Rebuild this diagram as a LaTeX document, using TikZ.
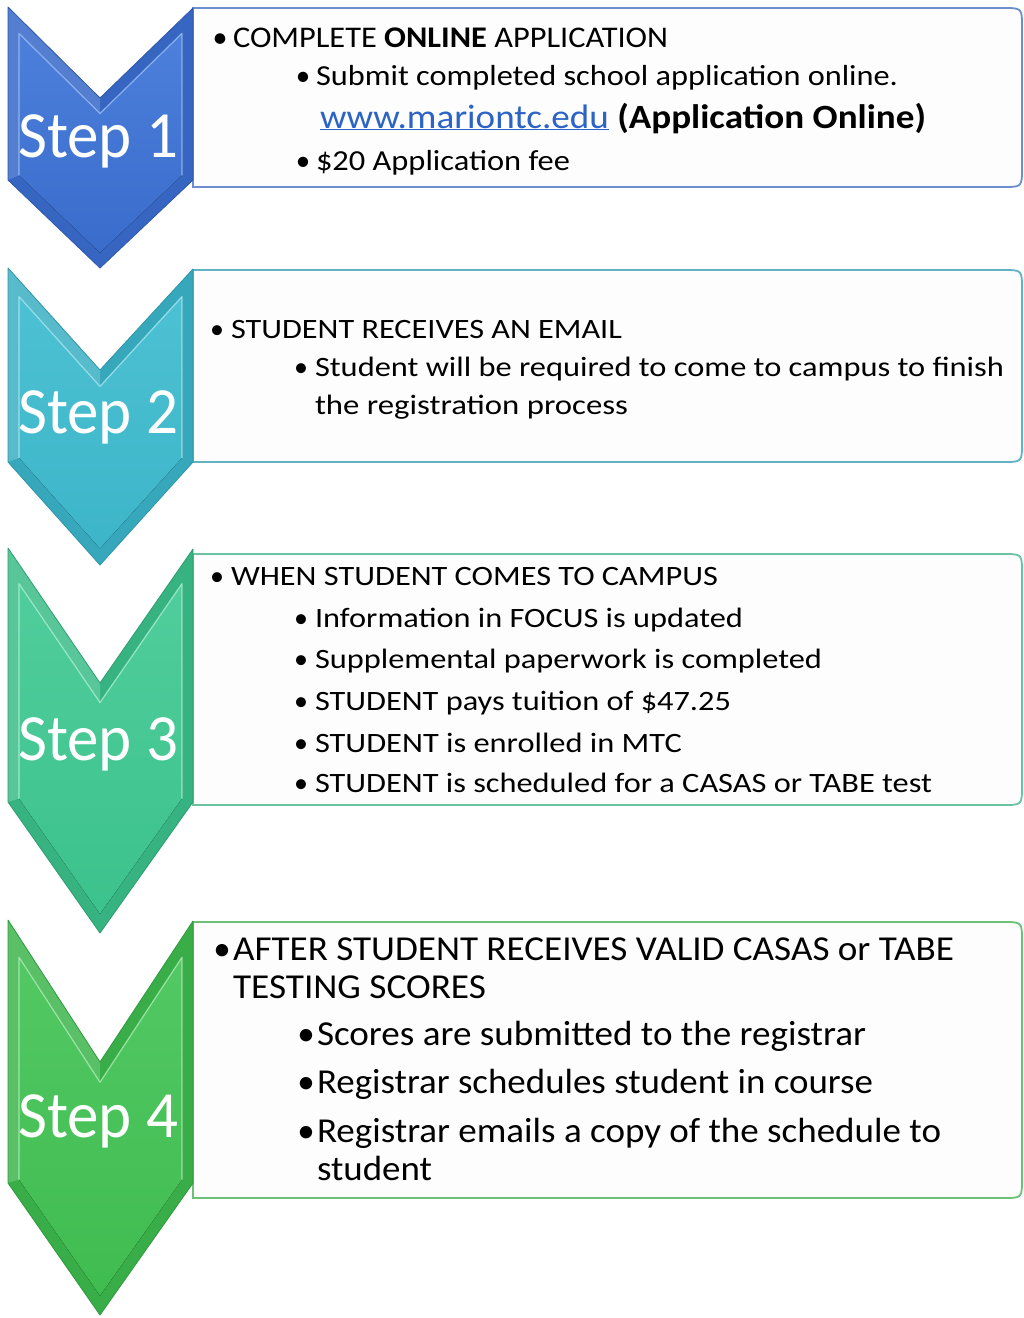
\documentclass[tikz,border=0pt]{standalone}
\usepackage{fontspec}
\setmainfont{Carlito}
\usepackage{graphicx}
\definecolor{link}{HTML}{2B63C6}
\definecolor{boxfill}{HTML}{FDFDFD}
\definecolor{s1main}{HTML}{3A6CCB}\definecolor{s1light}{HTML}{4C80DC}\definecolor{s1band}{HTML}{3765C2}\definecolor{s1hi}{HTML}{9ABEF4}\definecolor{s1edge}{HTML}{2F58AC}\definecolor{b1}{HTML}{6C8ED0}
\definecolor{s2main}{HTML}{3DB5C8}\definecolor{s2light}{HTML}{4CC1D3}\definecolor{s2band}{HTML}{37A8BB}\definecolor{s2hi}{HTML}{A6E8F2}\definecolor{s2edge}{HTML}{2E96A8}\definecolor{b2}{HTML}{62B2C2}
\definecolor{s3main}{HTML}{3CC28C}\definecolor{s3light}{HTML}{50CD9C}\definecolor{s3band}{HTML}{36B380}\definecolor{s3hi}{HTML}{A8F2D2}\definecolor{s3edge}{HTML}{2C9E70}\definecolor{b3}{HTML}{6AC3A0}
\definecolor{s4main}{HTML}{3FBC50}\definecolor{s4light}{HTML}{53C864}\definecolor{s4band}{HTML}{38AD48}\definecolor{s4hi}{HTML}{AAEEB2}\definecolor{s4edge}{HTML}{2E9A3E}\definecolor{b4}{HTML}{6CC078}
\newcommand\boxline[6]{%
  \node[anchor=base west, inner sep=0pt, outer sep=0pt, font=\fontsize{#5}{#5}\selectfont] (#1) at (#2,#3) {\resizebox{#4pt}{\height}{#6}};}
\newcommand\bul[4]{%
  \node[anchor=base, inner sep=0pt, outer sep=0pt, font=\fontsize{#4}{#4}\selectfont] (#1) at (#2,#3) {\textbullet};}
\newcommand\rbox[3]{%
  \draw[line width=1.8pt, draw=#3, fill=boxfill] (193,#1) -- (1003,#1) .. controls (1022,#1) .. (1022,#1+19) -- (1022,#2-19) .. controls (1022,#2) .. (1003,#2) -- (193,#2) -- cycle;}
\newcommand\chevron[5]{% #1 ytop #2 ynotch #3 ybot #4 ytip #5 prefix
  \pgfmathsetmacro\sa{(#2-#1)/92}
  \pgfmathsetmacro\da{11*sqrt(1+\sa*\sa)}
  \pgfmathsetmacro\ta{(#4-#3)/92}
  \pgfmathsetmacro\db{11*sqrt(1+\ta*\ta)}
  \pgfmathsetmacro\yi{#1+11*\sa+\da}
  \pgfmathsetmacro\yn{#2+\da}
  \pgfmathsetmacro\yb{#3+11*\ta-\db}
  \pgfmathsetmacro\yt{#4-\db}
  \fill[#5band] (8,#1) -- (100,#2) -- (193,#1+1) -- (193,#3) -- (100,#4) -- (8,#3) -- cycle;
  \fill[#5hi, opacity=0.3] (8,#1) -- (100,#2) -- (100,\yn) -- (19,\yi) -- (19,\yb) -- (8,#3) -- cycle;
  \fill[top color=#5light, bottom color=#5main] (19,\yi) -- (100,\yn) -- (182,\yi) -- (182,\yb) -- (100,\yt) -- (19,\yb) -- cycle;
  \draw[#5hi, line width=1.2pt, line join=round, opacity=0.85] (19,\yb) -- (19,\yi) -- (100,\yn) -- (182,\yi) -- (182,\yb);
  \draw[#5edge, line width=0.8pt, line join=round] (8,#1) -- (100,#2) -- (193,#1+1) -- (193,#3) -- (100,#4) -- (8,#3) -- cycle;
}
\begin{document}
\begin{tikzpicture}[x=1pt, y=-1pt]
\useasboundingbox[fill=white] (0,0) rectangle (1024,1318);
% boxes
\rbox{8}{187}{b1}
\rbox{270}{462}{b2}
\rbox{554}{805}{b3}
\rbox{922}{1198}{b4}
% chevrons
\chevron{7}{98}{180}{268}{s1}
\chevron{268}{370}{462}{565}{s2}
\chevron{548}{683}{802}{933}{s3}
\chevron{920}{1062}{1183}{1315}{s4}
\tikzset{steplabel/.style={anchor=base west, inner sep=0pt, text=white, font=\fontsize{66}{66}\selectfont}}
\node[steplabel] (st1) at (18,157) {\resizebox{160pt}{\height}{Step 1}};
\node[steplabel] (st2) at (18,433) {\resizebox{160pt}{\height}{Step 2}};
\node[steplabel] (st3) at (18,760) {\resizebox{160pt}{\height}{Step 3}};
\node[steplabel] (st4) at (18,1137) {\resizebox{160pt}{\height}{Step 4}};
% box 1
\bul{b1a}{220}{47}{30}
\boxline{l1a}{233}{47}{435}{30}{COMPLETE \textbf{ONLINE} APPLICATION}
\bul{b1b}{303}{85}{29}
\boxline{l1b}{316}{85}{582}{29}{Submit completed school application online.}
\boxline{l1c}{320}{128}{606}{34}{\textcolor{link}{\underline{www.mariontc.edu}} \textbf{(Application Online)}}
\bul{b1d}{303}{170}{29}
\boxline{l1d}{316}{170}{254}{29}{\$20 Application fee}
% box 2
\bul{b2a}{217}{338}{28}
\boxline{l2a}{231}{338}{391}{28}{STUDENT RECEIVES AN EMAIL}
\bul{b2b}{301}{376}{28}
\boxline{l2b}{315}{376}{689}{28}{Student will be required to come to campus to finish}
\boxline{l2c}{315}{414}{313}{28}{the registration process}
% box 3
\bul{b3a}{217}{585}{28}
\boxline{l3a}{231}{585}{487}{28}{WHEN STUDENT COMES TO CAMPUS}
\bul{b3b}{301}{627}{28}
\boxline{l3b}{315}{627}{428}{28}{Information in FOCUS is updated}
\bul{b3c}{301}{668}{28}
\boxline{l3c}{315}{668}{507}{28}{Supplemental paperwork is completed}
\bul{b3d}{301}{710}{28}
\boxline{l3d}{315}{710}{416}{28}{STUDENT pays tuition of \$47.25}
\bul{b3e}{301}{752}{28}
\boxline{l3e}{315}{752}{367}{28}{STUDENT is enrolled in MTC}
\bul{b3f}{301}{792}{28}
\boxline{l3f}{315}{792}{617}{28}{STUDENT is scheduled for a CASAS or TABE test}
% box 4
\bul{b4a}{222}{960}{35}
\boxline{l4a}{233}{960}{721}{35}{AFTER STUDENT RECEIVES VALID CASAS or TABE}
\boxline{l4b}{233}{998}{253}{35}{TESTING SCORES}
\bul{b4c}{306}{1045}{35}
\boxline{l4c}{317}{1045}{549}{35}{Scores are submitted to the registrar}
\bul{b4d}{306}{1093}{35}
\boxline{l4d}{317}{1093}{556}{35}{Registrar schedules student in course}
\bul{b4e}{306}{1142}{35}
\boxline{l4e}{317}{1142}{624}{35}{Registrar emails a copy of the schedule to}
\boxline{l4f}{317}{1180}{115}{35}{student}
\end{tikzpicture}
\end{document}
